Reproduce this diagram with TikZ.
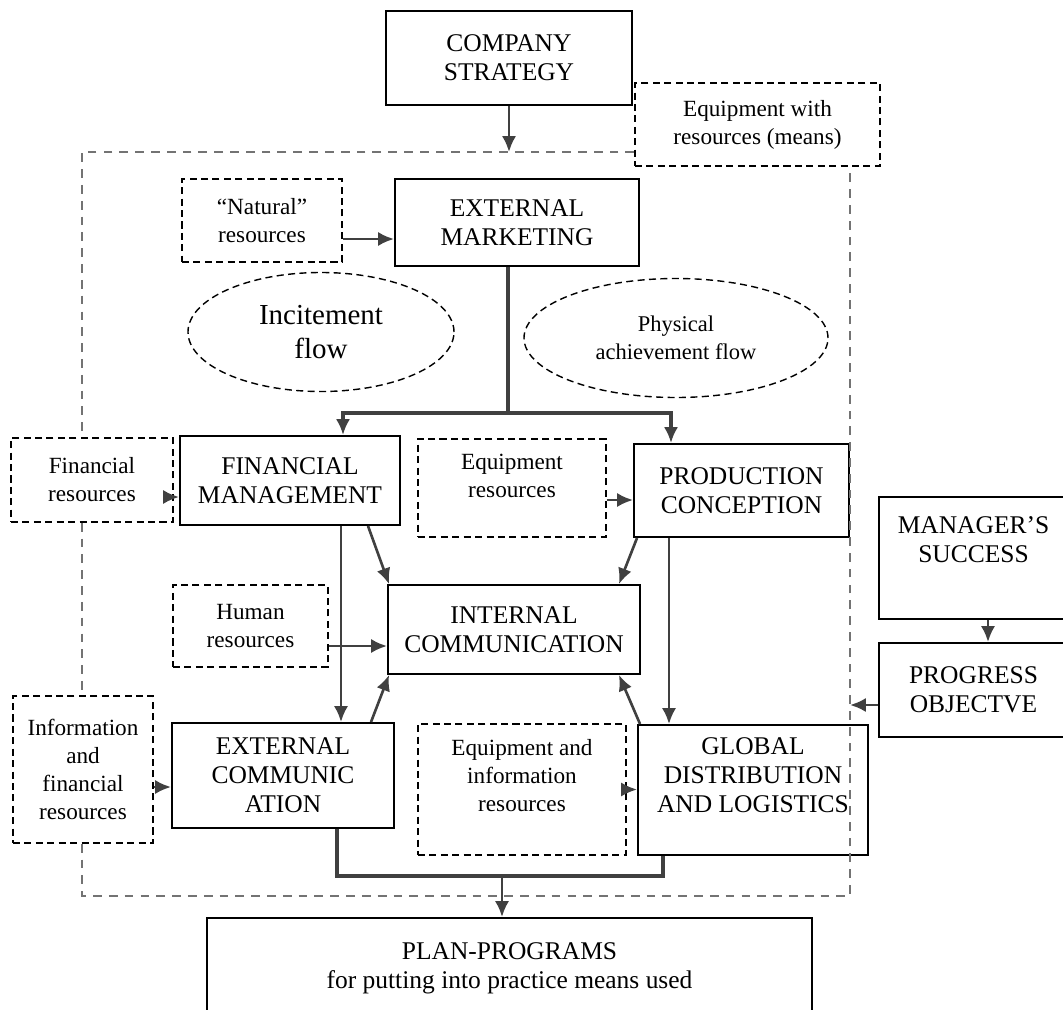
\documentclass[tikz,border=0pt]{standalone}
\usepackage{fontspec}
\setmainfont{Liberation Serif}
\usetikzlibrary{arrows.meta, positioning, shapes.geometric, calc}

\begin{document}
\begin{tikzpicture}[
      box/.style={rectangle, draw, line width=1.1pt, align=center, inner sep=2pt, font=\fontsize{14.5}{16.5}\selectfont},
      res/.style={rectangle, draw, dash pattern=on 4pt off 2.5pt, line width=0.9pt, align=center, inner sep=2pt, font=\fontsize{13.2}{16}\selectfont},
      flow/.style={ellipse, draw, dash pattern=on 4pt off 2.5pt, line width=0.8pt, align=center, inner sep=0pt},
      conn/.style={-{Latex[length=9pt,width=8pt]}, draw=black!75, line width=1.5pt},
      frame/.style={draw=black!55, line width=1.5pt, dash pattern=on 5pt off 4pt}]

      \useasboundingbox (0,0) rectangle (21.26,-20.2);
      \clip (0,0) rectangle (21.26,-20.2);

      % Top
      \node[box, minimum width=4.92cm, minimum height=1.88cm] (strategy) at (10.18,-1.16) {COMPANY\\STRATEGY};
      \node[res, minimum width=4.9cm, minimum height=1.66cm] (means) at (15.15,-2.49) {Equipment with\\resources (means)};
      \node[res, minimum width=3.2cm, minimum height=1.66cm] (natural) at (5.24,-4.41) {``Natural''\\resources};
      \node[box, minimum width=4.88cm, minimum height=1.74cm] (extmkt) at (10.34,-4.45) {EXTERNAL\\MARKETING};

      % Flows
      \node[flow, minimum width=5.32cm, minimum height=2.38cm, font=\fontsize{16.5}{19.5}\selectfont] (incite) at (6.42,-6.64) {Incitement\\flow};
      \node[flow, minimum width=6.08cm, minimum height=2.38cm, font=\fontsize{12.8}{15.8}\selectfont] (physical) at (13.52,-6.76) {Physical\\achievement flow};

      % Middle row
      \node[res, minimum width=3.24cm, minimum height=1.68cm] (finres) at (1.84,-9.6) {Financial\\resources};
      \node[box, minimum width=4.4cm, minimum height=1.78cm] (finmgmt) at (5.8,-9.61) {FINANCIAL\\MANAGEMENT};
      \node[res, minimum width=3.76cm, minimum height=1.96cm, text depth=0.5cm] (equipres) at (10.24,-9.76) {Equipment\\resources};
      \node[box, minimum width=4.3cm, minimum height=1.86cm] (prodcon) at (14.83,-9.81) {PRODUCTION\\CONCEPTION};

      \node[res, minimum width=3.1cm, minimum height=1.64cm] (human) at (5.01,-12.52) {Human\\resources};
      \node[box, minimum width=5.04cm, minimum height=1.78cm] (intcomm) at (10.28,-12.59) {INTERNAL\\COMMUNICATION};

      % Lower row
      \node[res, minimum width=2.8cm, minimum height=2.94cm] (info) at (1.66,-15.39) {Information\\and\\financial\\resources};
      \node[box, minimum width=4.44cm, minimum height=2.1cm] (extcomm) at (5.66,-15.51) {EXTERNAL\\COMMUNIC\\ATION};
      \node[res, minimum width=4.16cm, minimum height=2.62cm, text depth=0.55cm] (equipinfo) at (10.44,-15.79) {Equipment and\\information\\resources};
      \node[box, minimum width=4.6cm, minimum height=2.6cm, text depth=0.6cm] (global) at (15.06,-15.8) {GLOBAL\\DISTRIBUTION\\AND LOGISTICS};

      \node[box, minimum width=12.1cm, minimum height=2.0cm] (plan) at (10.19,-19.36) {PLAN-PROGRAMS\\for putting into practice means used};

      % Right side
      \node[box, minimum width=3.78cm, minimum height=2.44cm, text depth=0.75cm] (mgrsucc) at (19.47,-11.16) {MANAGER'S\\SUCCESS};
      \node[box, minimum width=3.78cm, minimum height=1.88cm] (progobj) at (19.47,-13.8) {PROGRESS\\OBJECTVE};

      % Frame of means
      \coordinate (ftl) at (1.64,-3.04);
      \coordinate (fbr) at (17.0,-17.92);
      \draw[frame] (means.west |- ftl) -- (ftl) -- (ftl |- finres.north);
      \draw[frame] (ftl |- finres.south) -- (ftl |- info.north);
      \draw[frame] (ftl |- info.south) -- (ftl |- fbr) -- (fbr) -- (fbr |- means.south);

      % Arrows
      \draw[conn] (strategy.south) -- (strategy.south |- ftl);
      \draw[conn] ([yshift=-0.37cm]natural.east) -- ([yshift=-0.37cm]natural.east -| extmkt.west);

      \coordinate (split) at (10.16,-8.26);
      \draw[draw=black!75, line width=2pt] (split |- extmkt.south) -- (split);
      \draw[conn, line width=2pt] (split) -| ([xshift=1.06cm]finmgmt.north);
      \draw[conn, line width=2pt] (split) -| ([xshift=-1.41cm]prodcon.north);

      \draw[conn] ([yshift=-0.34cm]finres.east) -- ([yshift=-0.34cm]finres.east -| finmgmt.west);
      \draw[conn] ([yshift=-0.24cm]equipres.east) -- ([yshift=-0.24cm]equipres.east -| prodcon.west);

      \draw[conn] ([xshift=1.02cm]finmgmt.south) -- ([xshift=1.02cm]finmgmt.south |- extcomm.north);
      \draw[conn] ([xshift=1.56cm]finmgmt.south) -- ([xshift=0.04cm]intcomm.north west);
      \draw[conn] ([xshift=1.76cm]extcomm.north) -- ([xshift=0.04cm]intcomm.south west);
      \draw[conn] ([yshift=-0.4cm]human.east) -- ([yshift=-0.4cm]human.east -| intcomm.west);

      \draw[conn] ([xshift=0.08cm]prodcon.south west) -- ([xshift=-0.44cm]intcomm.north east);
      \draw[conn] ([xshift=-1.45cm]prodcon.south) -- ([xshift=-1.45cm]prodcon.south |- global.north);
      \draw[conn] ([xshift=0.06cm]global.north west) -- ([xshift=-0.44cm]intcomm.south east);

      \draw[conn] ([yshift=-0.35cm]info.east) -- ([yshift=-0.35cm]info.east -| extcomm.west);
      \draw[conn] (equipinfo.east) -- (equipinfo.east -| global.west);

      \coordinate (merge) at (10.04,-17.52);
      \draw[draw=black!75, line width=2pt] ([xshift=1.08cm]extcomm.south) |- (merge) -| ([xshift=-1.8cm]global.south);
      \draw[conn] (merge) -- (merge |- plan.north);

      \draw[conn] ([xshift=0.29cm]mgrsucc.south) -- ([xshift=0.29cm]mgrsucc.south |- progobj.north);
      \draw[conn] ([yshift=-0.3cm]progobj.west) -- ([yshift=-0.3cm]progobj.west -| fbr);
    \end{tikzpicture}
\end{document}
